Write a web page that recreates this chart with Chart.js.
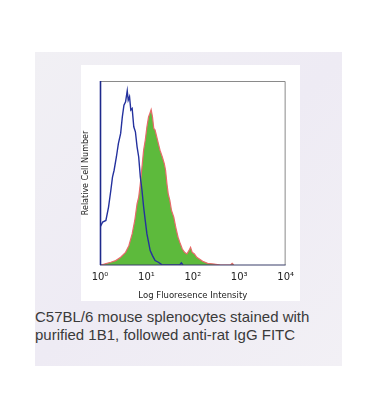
<!DOCTYPE html>
<html>
<head>
<meta charset="utf-8">
<script src="https://cdn.jsdelivr.net/npm/chart.js@4/dist/chart.umd.min.js"></script>
<style>
  html, body { margin:0; padding:0; background:#ffffff; width:370px; height:418px; overflow:hidden; }
  #panel { position:absolute; left:35px; top:52px; width:307px; height:314px;
           background: linear-gradient(135deg, #f1f0f4 0%, #eeebf4 50%, #f2f0f5 100%); }
  #box { position:absolute; left:46px; top:13px; width:219px; height:236px; background:#ffffff; }
  #cap { position:absolute; left:0px; top:256px; width:307px; font-family:"Liberation Sans", Arial, sans-serif;
         font-size:15px; line-height:18px; color:#3a3a3a; }
</style>
</head>
<body>
<div id="panel">
  <div id="box"><canvas id="c" width="219" height="236"></canvas></div>
  <div id="cap">C57BL/6 mouse splenocytes stained with<br>purified 1B1, followed anti-rat IgG FITC</div>
</div>
<script>
// log10 of fluorescence intensity, relative cell number (0-100)
const blueLog = [0.000,0.057,0.127,0.184,0.233,0.269,0.304,0.353,0.396,0.445,0.481,0.516,0.551,0.587,0.608,0.636,0.664,0.693,0.728,0.763,0.799,0.834,0.869,0.905,0.940,0.975,1.011,1.046,1.081,1.131,1.187,1.258,1.329,1.470,1.717,1.753,1.788];
const blueVal = [20.5,23.3,24.2,31.5,40.5,47.8,51.5,58.7,66.0,71.5,80.5,86.9,88.7,94.7,89.6,91.5,84.2,85.1,75.1,72.4,64.2,58.7,47.8,40.5,31.5,24.2,16.9,12.4,7.8,5.1,2.4,1.5,0.2,0,0,1.1,0];
const greenLog = [0.000,0.092,0.233,0.339,0.445,0.551,0.622,0.693,0.749,0.799,0.834,0.869,0.905,0.940,0.975,1.011,1.046,1.074,1.102,1.131,1.159,1.187,1.223,1.258,1.293,1.343,1.385,1.413,1.442,1.470,1.505,1.541,1.590,1.633,1.682,1.731,1.774,1.823,1.873,1.915,1.951,1.986,2.035,2.085,2.141,2.212,2.318,2.459,2.601,2.813,2.848,2.883];
const greenVal = [0,0.5,1.5,2.4,4.2,6.9,10.5,16.9,24.2,33.3,36.9,44.2,53.3,62.4,67.8,75.1,80.5,82.4,84.5,80.5,74.2,73.3,69.6,66.0,62.4,58.7,55.1,51.5,44.2,38.7,35.1,29.6,26.0,20.5,15.1,11.5,8.7,6.9,6.0,7.8,9.6,6.9,6.0,4.2,3.3,2.0,0.9,0.5,0,0,0.9,0];
const tickValues = [1, 10, 100, 1000, 10000];
const tickLabels = ["10⁰", "10¹", "10²", "10³", "10⁴"];
const xTitle = "Log Fluoresence Intensity";
const yTitle = "Relative Cell Number";

const toPts = (lx, vy) => lx.map((v, i) => ({ x: Math.pow(10, v), y: vy[i] }));

const framePlugin = {
  id: 'frame',
  afterDatasetsDraw(chart) {
    const a = chart.chartArea, ctx = chart.ctx;
    ctx.save();
    ctx.lineWidth = 1;
    ctx.strokeStyle = '#8a8a8a';
    ctx.beginPath();
    ctx.moveTo(a.left, a.top + 0.5); ctx.lineTo(a.right - 0.5, a.top + 0.5); ctx.lineTo(a.right - 0.5, a.bottom);
    ctx.stroke();
    ctx.strokeStyle = '#3a3f6a';
    ctx.lineWidth = 1.2;
    ctx.beginPath();
    ctx.moveTo(a.left, a.bottom); ctx.lineTo(a.right, a.bottom);
    ctx.stroke();
    ctx.strokeStyle = '#1e2a8c';
    ctx.lineWidth = 1.6;
    ctx.beginPath();
    ctx.moveTo(a.left + 0.5, a.top); ctx.lineTo(a.left + 0.5, a.bottom);
    ctx.stroke();
    ctx.restore();
  }
};

new Chart(document.getElementById('c'), {
  type: 'line',
  data: {
    datasets: [
      { label: 'isotype', data: toPts(blueLog, blueVal), borderColor: '#24319e', borderWidth: 1.4,
        fill: false, pointRadius: 0, tension: 0, order: 0 },
      { label: '1B1', data: toPts(greenLog, greenVal), borderColor: '#e86a6a', borderWidth: 1.2,
        backgroundColor: '#5dba3c', fill: 'origin', pointRadius: 0, tension: 0, order: 1 }
    ]
  },
  options: {
    responsive: false,
    animation: false,
    layout: { padding: { left: 0, right: 11, top: 16, bottom: 0 } },
    plugins: { legend: { display: false }, tooltip: { enabled: false } },
    scales: {
      x: {
        type: 'logarithmic', min: 1, max: 10000,
        afterBuildTicks: (s) => { s.ticks = tickValues.map(v => ({ value: v })); },
        afterFit: (s) => { s.height = 36; },
        grid: { display: false, drawTicks: false },
        border: { display: false },
        ticks: {
          autoSkip: false, maxRotation: 0, padding: 6,
          color: '#222', font: { family: 'DejaVu Sans', size: 10 },
          callback: (v) => { const i = tickValues.indexOf(v); return i >= 0 ? tickLabels[i] : ''; }
        },
        title: { display: true, text: xTitle, color: '#222', padding: { top: 0, bottom: 0 },
                 font: { family: 'DejaVu Sans', size: 8.5 } }
      },
      y: {
        min: 0, max: 100,
        afterFit: (s) => { s.width = 19; },
        grid: { display: false, drawTicks: false },
        border: { display: false },
        ticks: { display: false },
        title: { display: true, text: yTitle, color: '#222', padding: 0,
                 font: { family: 'DejaVu Sans', size: 8 } }
      }
    }
  },
  plugins: [framePlugin]
});
</script>
</body>
</html>
